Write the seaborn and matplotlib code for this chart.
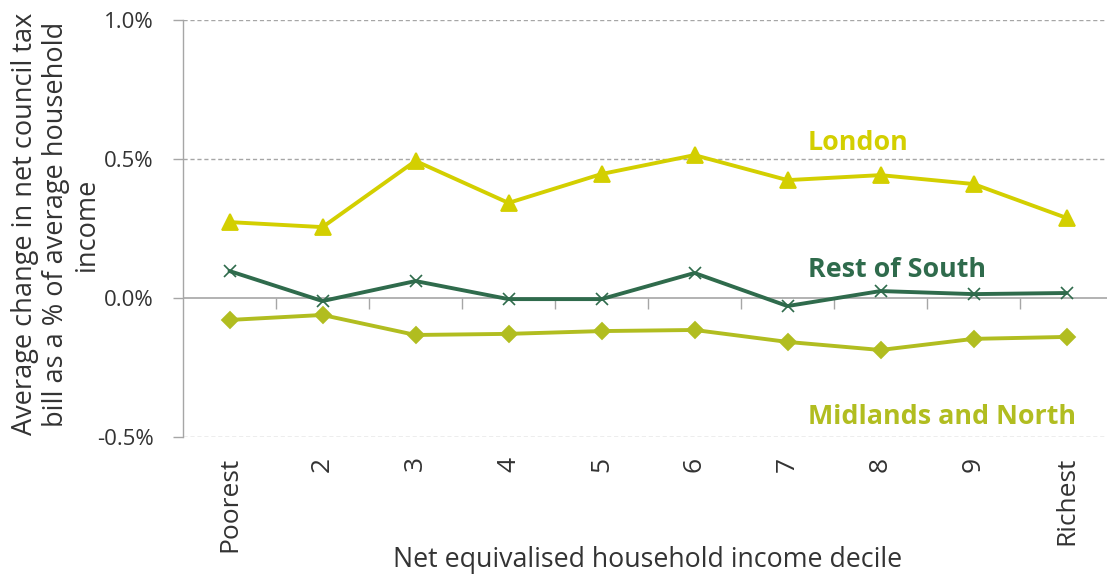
import matplotlib
matplotlib.use("Agg")
import matplotlib.pyplot as plt
from matplotlib.ticker import FuncFormatter, FixedLocator
import seaborn as sns
import pandas as pd
import numpy as np

deciles = ["Poorest", "2", "3", "4", "5", "6", "7", "8", "9", "Richest"]
london = [0.273, 0.255, 0.493, 0.342, 0.446, 0.514, 0.424, 0.442, 0.410, 0.288]
rest_of_south = [0.097, -0.011, 0.061, -0.004, -0.004, 0.090, -0.029, 0.025, 0.014, 0.018]
midlands_north = [-0.079, -0.061, -0.133, -0.129, -0.119, -0.115, -0.158, -0.187, -0.147, -0.140]
series_names = ["London", "Rest of South", "Midlands and North"]
y_ticks = [-0.5, 0.0, 0.5, 1.0]

colors = {"London": "#d3cf00", "Rest of South": "#2f6b4c", "Midlands and North": "#b1bd20"}
markers = {"London": "^", "Rest of South": "x", "Midlands and North": "D"}
msizes = {"London": 11, "Rest of South": 9, "Midlands and North": 8}

sns.set_theme(style="white")
plt.rcParams["font.family"] = ["Open Sans", "DejaVu Sans"]

pos = np.arange(len(deciles))
frames = []
for name, vals in zip(series_names, [london, rest_of_south, midlands_north]):
    frames.append(pd.DataFrame({"pos": pos, "value": vals, "region": name}))
df = pd.concat(frames, ignore_index=True)

fig = plt.figure(figsize=(11.07, 5.79), dpi=100)
W, H = 1107, 579
ax = fig.add_axes([183 / W, (H - 437) / H, 930 / W, 417 / H])

for name in series_names:
    sub = df[df["region"] == name]
    sns.lineplot(data=sub, x="pos", y="value", ax=ax, color=colors[name],
                 marker=markers[name], markersize=msizes[name],
                 markeredgecolor=colors[name], markeredgewidth=1.3 if name != "Rest of South" else 1.2,
                 linewidth=2.8, legend=False, zorder=3)

ax.set_xlim(-0.5, len(deciles) - 0.5)
ax.set_ylim(-0.5, 1.0)
grey = "#a6a6a6"
text_col = "#333333"

# gridlines
ax.yaxis.set_major_locator(FixedLocator(y_ticks))
ax.yaxis.set_major_formatter(FuncFormatter(lambda v, p: f"{v:.1f}%"))
for t in y_ticks:
    if t == 0:
        ax.axhline(t, color=grey, lw=1.2, zorder=1)
    else:
        ax.axhline(t, color=grey, lw=1.0, ls=(0, (3, 2)), zorder=1)

for s in ["top", "right", "bottom"]:
    ax.spines[s].set_visible(False)
ax.spines["left"].set_color(grey)
ax.spines["left"].set_linewidth(1.0)

ax.tick_params(axis="y", length=7, width=1.0, color=grey, direction="out", pad=14,
               labelsize=16, labelcolor=text_col, left=True)
ax.set_xticks(pos)
ax.set_xticklabels(deciles, rotation=90, fontsize=19, color=text_col)
ax.tick_params(axis="x", length=0, pad=14)

# category boundary ticks on the zero line
sec = ax.secondary_xaxis(1 / 3)
sec.set_xticks(pos[:-1] + 0.5)
sec.set_xticklabels([])
sec.tick_params(axis="x", length=8, width=1.0, color=grey, direction="out")
sec.spines["bottom"].set_visible(False)

ax.set_xlabel("")
ax.set_ylabel("")
fig.text(648 / W, 1 - 560 / H, "Net equivalised household income decile",
         ha="center", va="center", fontsize=19.3, color=text_col)
fig.text(56 / W, 1 - 224 / H,
         "Average change in net council tax\nbill as a % of average household\nincome",
         rotation=90, ha="center", va="center", multialignment="center",
         fontsize=19.5, color=text_col, linespacing=1.15)

label_pos = {"London": (6.22, 0.558), "Rest of South": (6.22, 0.101), "Midlands and North": (6.22, -0.428)}
for name in series_names:
    x, y = label_pos[name]
    ax.text(x, y, name, color=colors[name], fontsize=19.4, fontweight="bold", ha="left", va="center")

fig.savefig("out.png", dpi=100)
